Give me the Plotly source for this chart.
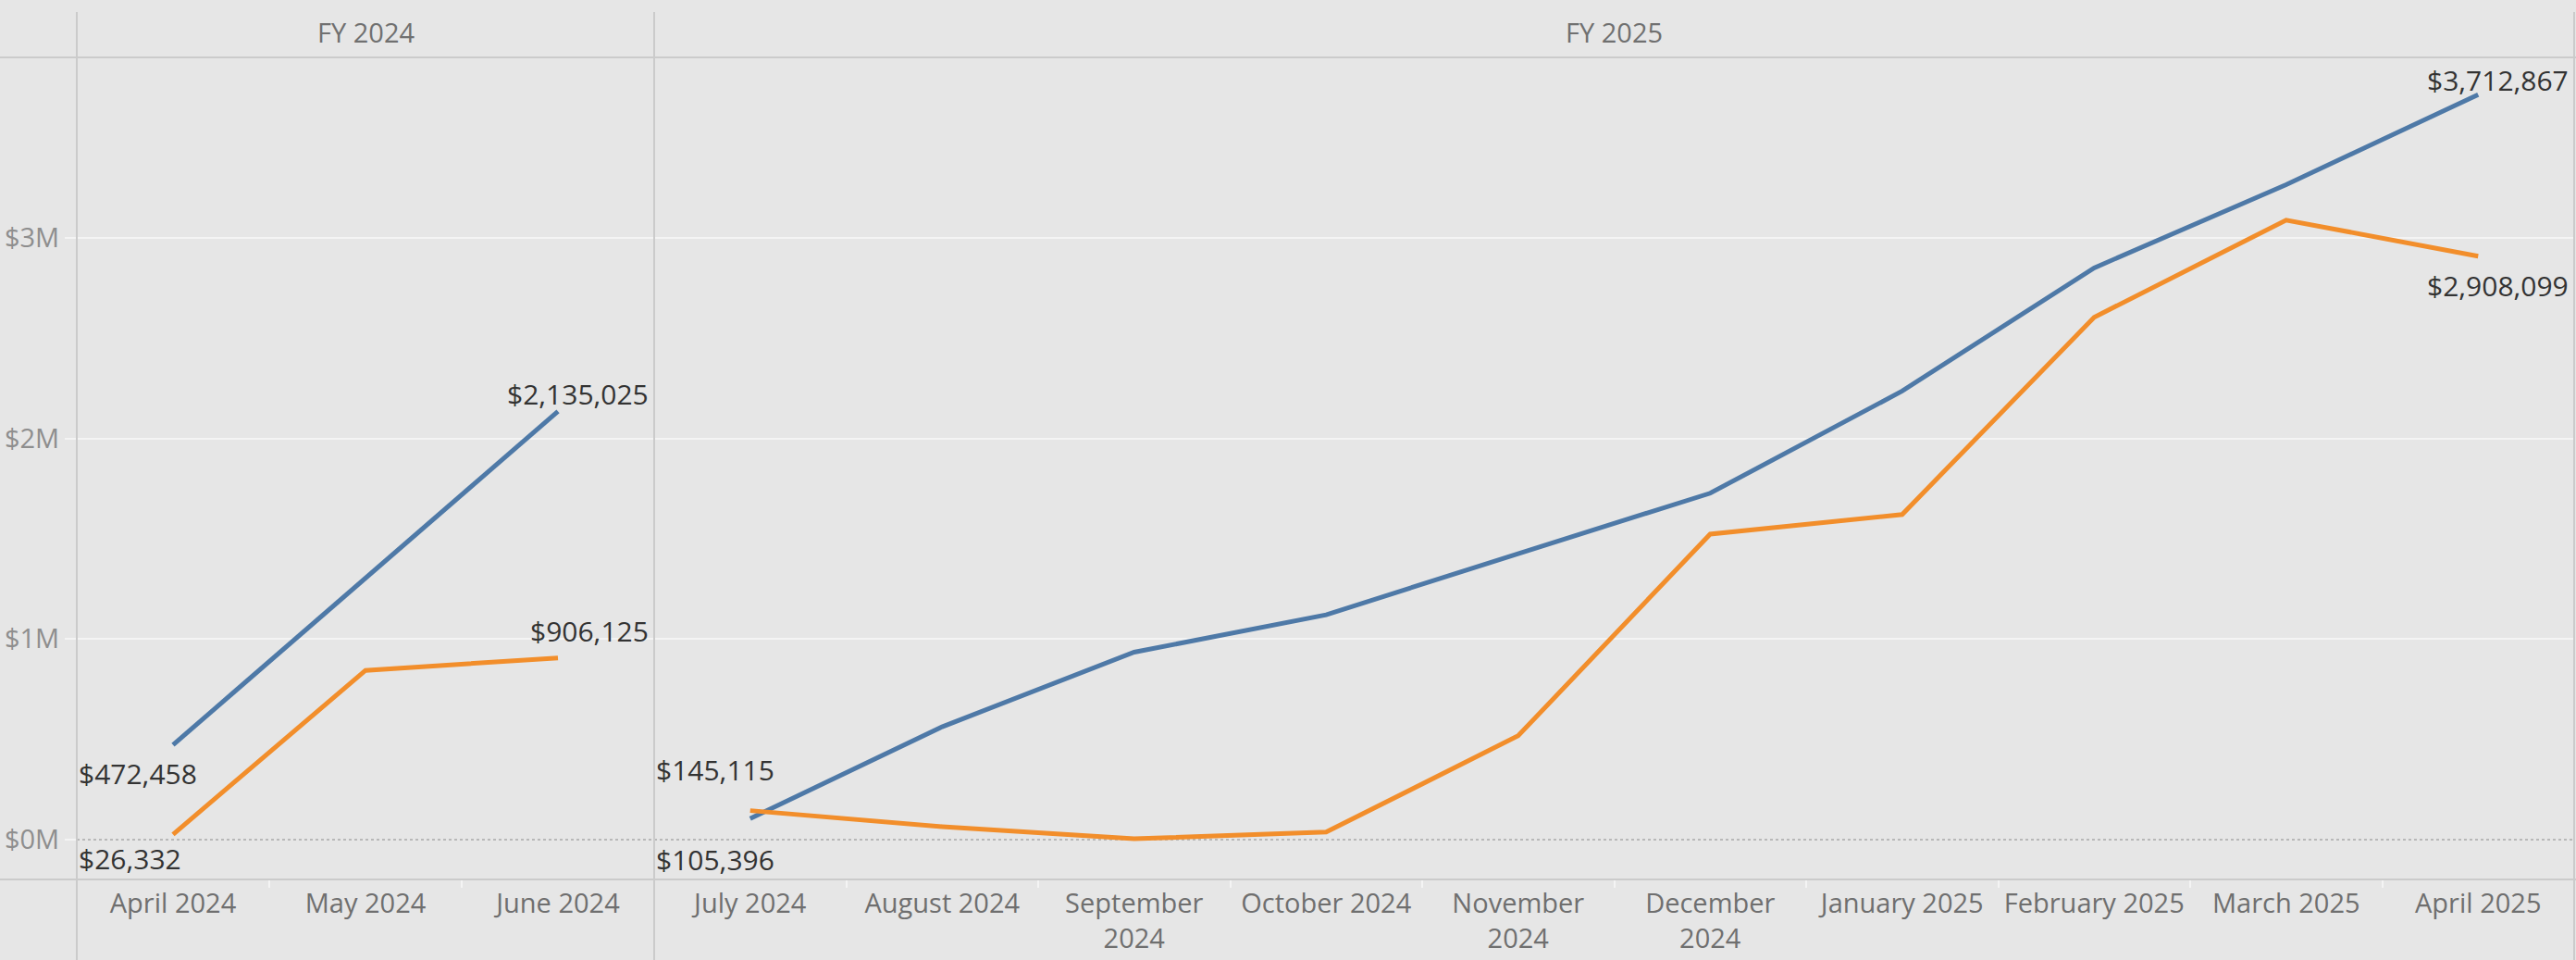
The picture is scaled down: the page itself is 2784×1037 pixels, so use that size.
import plotly.graph_objects as go

# ---------------- data ----------------
months_fy24 = ["April 2024", "May 2024", "June 2024"]
months_fy25 = ["July 2024", "August 2024", "September 2024", "October 2024",
               "November 2024", "December 2024", "January 2025", "February 2025",
               "March 2025", "April 2025"]
ticks_fy24 = ["April 2024", "May 2024", "June 2024"]
ticks_fy25 = ["July 2024", "August 2024", "September<br>2024", "October 2024",
              "November<br>2024", "December<br>2024", "January 2025", "February 2025",
              "March 2025", "April 2025"]
blue_fy24 = [472458, 1301000, 2135025]
orange_fy24 = [26332, 844000, 906125]
blue_fy25 = [105396, 563000, 935000, 1121000, 1426000, 1727000, 2236000, 2850000, 3265000, 3712867]
orange_fy25 = [145115, 65000, 5000, 38000, 518000, 1523000, 1621000, 2604000, 3088000, 2908099]
panel_titles = ["FY 2024", "FY 2025"]
y_tickvals = [0, 1000000, 2000000, 3000000]
y_ticktext = ["$0M", "$1M", "$2M", "$3M"]
y_gridvals = [1000000, 2000000, 3000000]

# ---------------- style ----------------
W, H = 2784, 1037
BG = "#e6e6e6"
BLUE = "#4e79a7"
ORANGE = "#f28e2b"
FONT = "Open Sans"
LINE_W = 5
DIV = "#cbcbcb"
GRID = "#f4f4f4"

x_left, x_mid, x_right = 83, 707, 2782
y_top_px, y_bot_px = 62, 950


def px_x(p):
    return p / W


def px_y(p):
    return (H - p) / H


fig = go.Figure()

series = [
    ("x", "y", months_fy24, blue_fy24, BLUE),
    ("x", "y", months_fy24, orange_fy24, ORANGE),
    ("x2", "y2", months_fy25, blue_fy25, BLUE),
    ("x2", "y2", months_fy25, orange_fy25, ORANGE),
]
for xa, ya, cats, vals, col in series:
    fig.add_trace(go.Scatter(x=cats, y=vals, xaxis=xa, yaxis=ya, mode="lines",
                             line=dict(color=col, width=LINE_W), hoverinfo="skip",
                             showlegend=False))

# data labels at first/last points (xanchor, yshift)
label_specs = [
    ("x", "y", months_fy24, blue_fy24, 0, "left", -31),
    ("x", "y", months_fy24, orange_fy24, 0, "left", -26),
    ("x", "y", months_fy24, blue_fy24, -1, "right", 19),
    ("x", "y", months_fy24, orange_fy24, -1, "right", 29),
    ("x2", "y2", months_fy25, blue_fy25, 0, "left", -44),
    ("x2", "y2", months_fy25, orange_fy25, 0, "left", 44),
    ("x2", "y2", months_fy25, blue_fy25, -1, "right", 16),
    ("x2", "y2", months_fy25, orange_fy25, -1, "right", -32),
]
for xa, ya, cats, vals, idx, anchor, ys in label_specs:
    fig.add_annotation(x=cats[idx], y=vals[idx], xref=xa, yref=ya,
                       text="${:,.0f}".format(vals[idx]), showarrow=False,
                       xanchor=anchor, yanchor="middle",
                       xshift=-104 if anchor == "left" else 100, yshift=ys,
                       font=dict(family=FONT, size=30, color="#333333"))

# panel headers
for title, (a, b) in zip(panel_titles, [(x_left, x_mid), (x_mid, x_right)]):
    fig.add_annotation(x=px_x((a + b) / 2), y=px_y(35), xref="paper", yref="paper",
                       text=title, showarrow=False, xanchor="center", yanchor="middle",
                       font=dict(family=FONT, size=29, color="#707070"))

yrange = [-198000, 3899000]
ydom = [px_y(y_bot_px), px_y(y_top_px)]
xaxis_common = dict(type="category", showgrid=False, zeroline=False, showline=False,
                    ticks="outside", tickson="boundaries", ticklen=8, tickwidth=2,
                    tickcolor=GRID, ticklabelstandoff=6,
                    tickfont=dict(family=FONT, size=29, color="#6f6f6f"),
                    fixedrange=True)
minor_grid = dict(tickmode="array", tickvals=y_gridvals, showgrid=True,
                  gridcolor=GRID, gridwidth=2, ticks="")
fig.update_layout(
    width=W, height=H,
    margin=dict(l=0, r=0, t=0, b=0),
    paper_bgcolor=BG, plot_bgcolor=BG,
    xaxis=dict(domain=[px_x(x_left), px_x(x_mid)], anchor="y",
               categoryorder="array", categoryarray=months_fy24,
               tickvals=months_fy24, ticktext=ticks_fy24, range=[-0.5, 2.5], **xaxis_common),
    xaxis2=dict(domain=[px_x(x_mid), px_x(x_right)], anchor="y2",
                categoryorder="array", categoryarray=months_fy25,
                tickvals=months_fy25, ticktext=ticks_fy25, range=[-0.5, 9.5], **xaxis_common),
    yaxis=dict(domain=ydom, anchor="x", range=yrange, tickvals=y_tickvals, ticktext=y_ticktext,
               showgrid=False, zeroline=False, minor=minor_grid,
               ticks="outside", ticklen=12, tickwidth=2, tickcolor=GRID,
               tickfont=dict(family=FONT, size=29, color="#8e8e8e"), fixedrange=True),
    yaxis2=dict(domain=ydom, anchor="x2", range=yrange, tickvals=y_tickvals, matches="y",
                showticklabels=False, showgrid=False, minor=minor_grid,
                zeroline=False, fixedrange=True),
)

shapes = []
# dotted zero line
for xr, yr in [("x domain", "y"), ("x2 domain", "y2")]:
    shapes.append(dict(type="line", xref=xr, yref=yr, x0=0, x1=1, y0=0, y1=0,
                       line=dict(color="#b8b8b8", width=2, dash="dot"), layer="below"))
# header separator and bottom axis line
for yp in [y_top_px, y_bot_px]:
    shapes.append(dict(type="line", xref="paper", yref="paper", x0=0, x1=1,
                       y0=px_y(yp), y1=px_y(yp), line=dict(color=DIV, width=2)))
# vertical panel dividers
for xp in [x_left, x_mid, x_right]:
    shapes.append(dict(type="line", xref="paper", yref="paper", x0=px_x(xp), x1=px_x(xp),
                       y0=0, y1=px_y(13), line=dict(color=DIV, width=2)))
fig.update_layout(shapes=shapes)

fig.write_html("out.html", config={"displayModeBar": False},
               post_script="document.body.style.margin='0';document.body.style.overflow='hidden';")
